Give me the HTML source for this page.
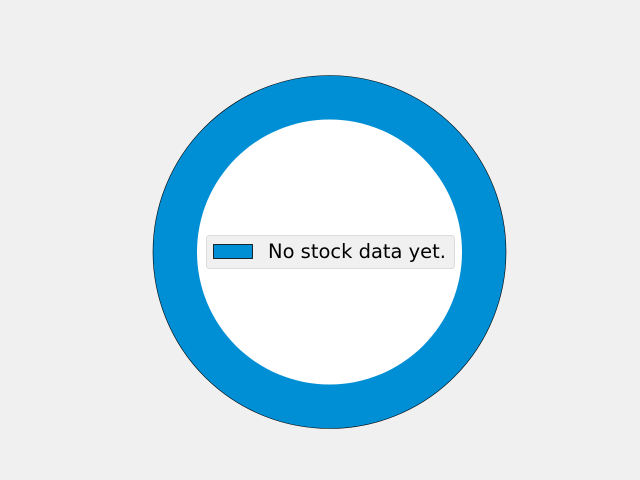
<!DOCTYPE html>
<html><head><meta charset="utf-8"><style>
html,body{margin:0;padding:0;background:#f0f0f0;width:640px;height:480px;overflow:hidden}
</style></head><body>
<svg id="chart" width="640" height="480" viewBox="0 0 640 480" xmlns="http://www.w3.org/2000/svg">
<rect width="640" height="480" fill="#f0f0f0"/>
<g id="slices"></g>
<circle cx="329.5" cy="252" r="132.5" fill="#ffffff"/>
<g>
<rect x="206.5" y="235.5" width="248" height="33" rx="3" fill="#f0f0f0" stroke="#dcdcdc" stroke-width="1"/>
<rect x="213.5" y="244.5" width="39" height="14" fill="#008fd5" stroke="#000" stroke-width="0.8"/>
<text id="legend-label" x="268" y="258" font-family="DejaVu Sans, sans-serif" font-size="19.3" textLength="178" lengthAdjust="spacingAndGlyphs" fill="#000">No stock data yet.</text>
</g>
</svg>
<script>
const labels = ["No stock data yet."];
const values = [1];
const colors = ["#008fd5"];
const cx = 329.5, cy = 252, R = 176.5;
const g = document.getElementById('slices');
const total = values.reduce((a, b) => a + b, 0);
let ang = 0;
values.forEach((v, i) => {
  const frac = v / total;
  let el;
  if (frac >= 0.9999) {
    el = document.createElementNS('http://www.w3.org/2000/svg', 'circle');
    el.setAttribute('cx', cx); el.setAttribute('cy', cy); el.setAttribute('r', R);
  } else {
    const a0 = ang, a1 = ang + frac * 2 * Math.PI;
    const x0 = cx + R * Math.cos(a0), y0 = cy - R * Math.sin(a0);
    const x1 = cx + R * Math.cos(a1), y1 = cy - R * Math.sin(a1);
    el = document.createElementNS('http://www.w3.org/2000/svg', 'path');
    el.setAttribute('d', `M${cx},${cy} L${x0},${y0} A${R},${R} 0 ${frac > 0.5 ? 1 : 0} 0 ${x1},${y1} Z`);
  }
  ang += frac * 2 * Math.PI;
  el.setAttribute('fill', colors[i % colors.length]);
  el.setAttribute('stroke', '#000');
  el.setAttribute('stroke-width', '0.6');
  
  
  g.appendChild(el);
});
document.getElementById('legend-label').textContent = labels[0];
</script>
</body></html>
